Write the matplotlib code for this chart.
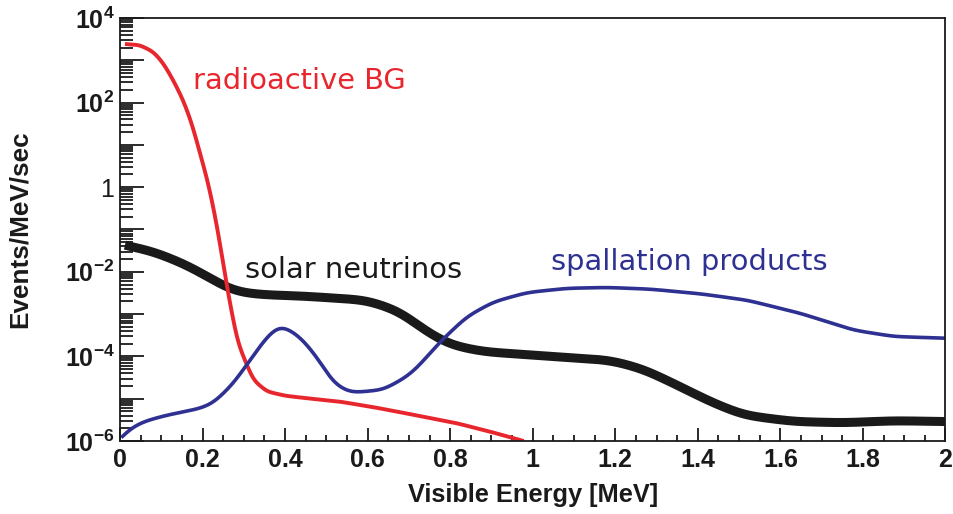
import numpy as np
import matplotlib
matplotlib.use("Agg")
import matplotlib.pyplot as plt
from matplotlib.ticker import FixedLocator, FuncFormatter, MultipleLocator


plt.rcParams["font.family"] = ["Liberation Sans", "DejaVu Sans"]
plt.rcParams["mathtext.fontset"] = "custom"
plt.rcParams["mathtext.rm"] = "Liberation Sans:bold"
plt.rcParams["mathtext.it"] = "Liberation Sans:bold"
plt.rcParams["mathtext.bf"] = "Liberation Sans:bold"


# radioactive background (log10 of events/MeV/sec)
red_x = [0.012, 0.048, 0.081, 0.105, 0.129, 0.153, 0.174, 0.194, 0.214,
         0.234, 0.250, 0.263, 0.271, 0.283, 0.299, 0.323, 0.356, 0.40,
         0.453, 0.533, 0.614, 0.695, 0.816, 0.897, 0.978]
red_log = [3.385, 3.36, 3.20, 2.93, 2.53, 2.06, 1.51, 0.80, 0.09,
           -0.85, -1.80, -2.59, -2.95, -3.61, -4.01, -4.56, -4.83, -4.93,
           -4.99, -5.07, -5.20, -5.35, -5.58, -5.78, -6.00]

# solar neutrinos
black_x = [0.012, 0.081, 0.162, 0.226, 0.267, 0.307, 0.364, 0.436, 0.598,
           0.679, 0.743, 0.800, 0.881, 1.002, 1.123, 1.188, 1.268, 1.350,
           1.430, 1.511, 1.632, 1.753, 1.875, 2.0]
black_log = [-1.37, -1.52, -1.84, -2.19, -2.43, -2.51, -2.55, -2.57, -2.67,
             -2.94, -3.42, -3.73, -3.89, -3.97, -4.05, -4.09, -4.30, -4.68,
             -5.07, -5.39, -5.54, -5.57, -5.52, -5.54]

# spallation products
blue_x = [0.003, 0.015, 0.032, 0.060, 0.113, 0.194, 0.226, 0.275, 0.315,
          0.356, 0.388, 0.436, 0.477, 0.517, 0.558, 0.638, 0.695, 0.719,
          0.776, 0.840, 0.905, 0.986, 1.083, 1.180, 1.285, 1.406, 1.519,
          1.648, 1.778, 1.875, 2.0]
blue_log = [-5.92, -5.78, -5.66, -5.53, -5.39, -5.23, -5.11, -4.64, -4.09,
            -3.53, -3.24, -3.53, -4.01, -4.64, -4.86, -4.79, -4.48, -4.28,
            -3.65, -3.06, -2.71, -2.49, -2.39, -2.37, -2.41, -2.52, -2.67,
            -2.98, -3.38, -3.53, -3.57]

ytick_exps = [-6, -5, -4, -3, -2, -1, 0, 1, 2, 3, 4]


def smooth(xs, ys, sigma=0.010, step=0.001):
    # straight segments in log space, then a small gaussian blur along x
    xx = np.arange(xs[0], xs[-1] + step / 2, step)
    yy = np.interp(xx, xs, ys)
    r = int(4 * sigma / step)
    kern = np.exp(-0.5 * (np.arange(-r, r + 1) * step / sigma) ** 2)
    kern /= kern.sum()
    pad = np.concatenate([
        2 * yy[0] - yy[r:0:-1], yy, 2 * yy[-1] - yy[-2:-r - 2:-1]
    ])
    ys_s = np.convolve(pad, kern, mode="valid")
    return xx, 10 ** ys_s


fig = plt.figure(figsize=(9.54, 5.14), dpi=100)
ax = fig.add_axes([120 / 954, 1 - 441 / 514, 825.5 / 954, 423 / 514])

red = "#e8262d"
blue = "#2e3192"
black = "#1a1a1a"

bx, by = smooth(black_x, black_log, sigma=0.028)
ax.plot(bx, by, color=black, lw=6.5, solid_capstyle="butt")

rx, ry = smooth(red_x, red_log, sigma=0.008)
ax.plot(rx, ry, color=red, lw=2.8, solid_capstyle="butt")

ux, uy = smooth(blue_x, blue_log, sigma=0.017)
ax.plot(ux, uy, color=blue, lw=2.6, solid_capstyle="butt")

ax.set_yscale("log")
ax.set_xlim(0, 2)
ax.set_ylim(1e-6, 1e4)

ax.xaxis.set_major_locator(MultipleLocator(0.2))
ax.xaxis.set_minor_locator(MultipleLocator(0.05))
ax.xaxis.set_major_formatter(FuncFormatter(lambda v, p: f"{v:g}"))

ax.yaxis.set_major_locator(FixedLocator([10.0**e for e in ytick_exps]))
minor = [k * 10.0**e for e in ytick_exps[:-1] for k in range(2, 10)]
ax.yaxis.set_minor_locator(FixedLocator(minor))


def ylab(v, p):
    e = int(round(np.log10(v)))
    if e % 2:
        return ""
    if e == 0:
        return "1"
    return r"$10^{%d}$" % e


ax.yaxis.set_major_formatter(FuncFormatter(ylab))

ax.tick_params(axis="both", which="both", direction="in", width=1.3,
               colors=black, top=False, right=False)
ax.tick_params(axis="y", which="major", length=17.5, labelsize=18, pad=4)
ax.tick_params(axis="y", which="minor", length=9)
ax.tick_params(axis="x", which="major", length=9.2, labelsize=18, pad=5)
ax.tick_params(axis="x", which="minor", length=4.6)
for lbl in ax.get_xticklabels():
    lbl.set_fontweight("bold")

for s in ax.spines.values():
    s.set_linewidth(1.3)
    s.set_color(black)

ax.set_xlabel("Visible Energy [MeV]", fontsize=18.3, fontweight="bold",
              color=black)
ax.xaxis.set_label_coords(0.5, -0.10)
ax.set_ylabel("Events/MeV/sec", fontsize=18.8, fontweight="bold",
              color=black)
ax.yaxis.set_label_coords(-0.107, 0.5)

tfont = ["DejaVu Sans"]
ax.text(0.176, 10**2.314, "radioactive BG", color=red, fontsize=20.8,
        family=tfont, va="baseline")
ax.text(0.302, 10**-2.154, "solar neutrinos", color=black, fontsize=20.8,
        family=tfont, va="baseline")
ax.text(1.044, 10**-1.957, "spallation products", color=blue, fontsize=20.8,
        family=tfont, va="baseline")

fig.savefig("out.png", dpi=100)
